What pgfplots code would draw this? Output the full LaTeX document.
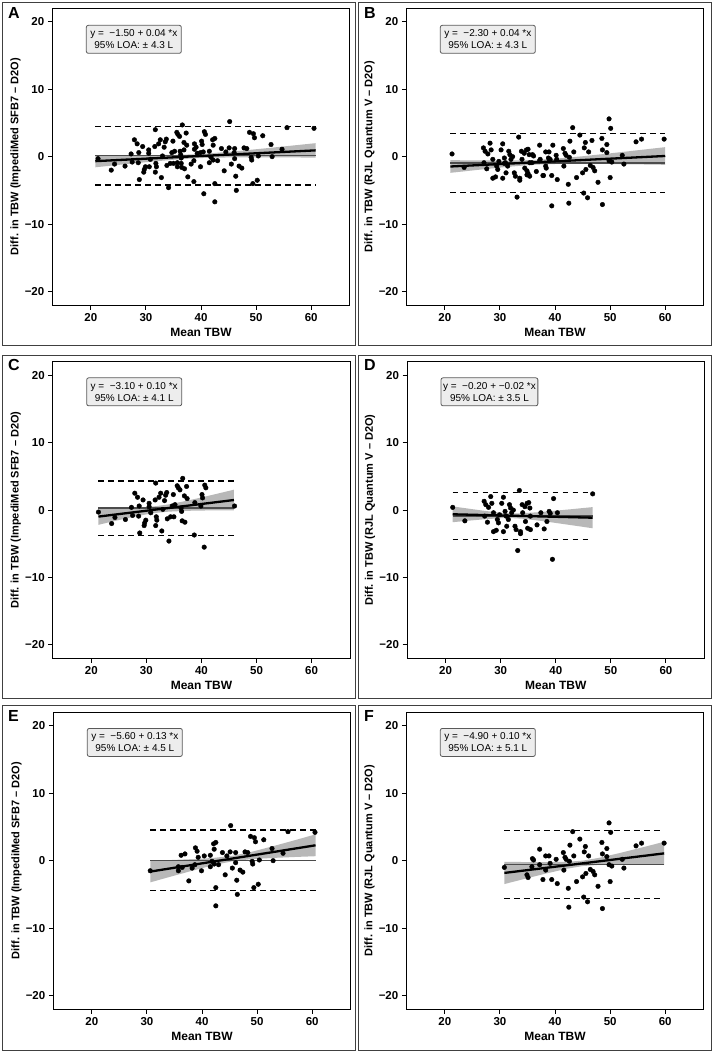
\documentclass[border=0pt]{standalone}
\usepackage{fontspec}
\setmainfont{Liberation Sans}
\usepackage{pgfplots}
\pgfplotsset{compat=1.18}
\usepackage{pgfplotstable}

% ---------- data: women (C, D) and men (E, F); A = C+E, B = D+F ----------
\pgfplotstableread{
x y
21.3 -0.3
23.7 -2.0
24.3 -1.1
26.2 -1.4
27.3 0.4
27.5 -0.8
27.9 2.5
28.4 1.9
28.7 0.6
28.6 -0.9
28.8 -3.4
29.4 1.5
29.7 -1.9
29.6 -2.3
29.9 -1.5
30.5 1.0
30.5 0.5
30.8 -0.4
31.6 1.5
31.7 4.0
31.8 -1.0
31.9 -1.5
31.7 -2.3
32.3 1.9
32.6 2.5
32.8 -3.1
33.0 0.1
33.3 1.4
33.5 2.2
33.7 2.6
33.8 -1.3
34.1 -4.6
34.4 -1.0
34.7 0.6
34.9 2.3
35.0 -1.0
35.2 0.8
35.6 3.6
35.8 3.3
36.1 3.0
36.6 4.7
36.3 0.3
36.4 -0.2
36.5 -1.6
37.0 -1.8
36.9 2.1
37.3 3.5
37.4 1.7
38.8 1.1
38.7 -3.7
39.9 0.6
40.1 2.3
40.2 1.8
40.6 3.7
40.8 3.3
40.5 -5.5
46.0 0.6
}\dataC

\pgfplotstableread{
x y
30.6 -1.5
35.7 -0.9
35.7 -1.5
36.2 0.8
36.9 1.0
36.4 -1.0
37.6 -3.0
38.2 -1.1
38.8 1.9
39.1 1.4
39.3 0.5
38.7 -0.6
39.9 -1.5
40.4 0.7
41.5 0.8
41.5 -0.9
41.8 -0.1
42.1 2.5
42.2 1.7
42.5 2.7
42.2 -0.5
42.5 -4.0
42.5 -6.7
43.0 -0.6
43.7 1.2
44.2 -2.1
44.5 0.7
45.2 5.2
45.1 1.3
45.5 -1.1
46.1 1.2
46.1 -0.3
46.3 -2.9
46.4 -5.0
46.9 -1.4
47.4 -1.7
47.8 1.3
48.3 1.2
48.8 3.6
49.1 -0.1
49.2 -0.5
49.4 -4.0
49.5 3.4
49.7 2.8
50.2 -3.5
50.4 0.1
51.2 3.1
52.7 1.8
52.9 0.0
54.7 1.1
55.6 4.3
60.5 4.2
}\dataE

\pgfplotstableread{
x y
21.3 0.4
23.5 -1.6
27.0 1.3
27.3 0.8
27.1 -0.9
27.6 -1.8
27.8 0.4
28.2 2.0
28.4 1.0
28.7 -0.4
28.7 -3.2
29.2 -3.0
29.4 -1.4
29.6 -1.9
29.8 -0.7
30.2 1.0
30.5 1.9
30.5 -3.2
30.8 -0.2
31.0 -0.9
31.1 -2.4
31.4 -1.4
31.6 0.8
31.8 0.3
32.0 -0.4
32.3 0.0
32.6 -2.4
32.8 -2.9
33.1 -6.0
33.4 2.9
33.6 -3.2
33.6 -3.5
33.9 0.8
34.0 -0.4
34.4 0.5
34.5 -1.7
34.8 1.0
34.9 -2.7
35.1 1.1
35.3 0.3
35.4 -2.9
35.4 -0.9
36.6 -2.2
37.3 -0.4
37.9 -2.8
38.4 -1.7
38.8 -0.2
39.0 -0.5
39.6 1.7
39.4 -7.3
40.3 -0.4
46.7 2.4
}\dataD

\pgfplotstableread{
x y
30.8 -1.0
34.9 -2.1
35.1 -2.5
35.9 0.3
36.1 0.1
35.8 -0.9
37.2 1.7
37.2 -0.6
37.8 -2.8
38.3 0.7
38.3 -1.4
38.9 0.7
39.1 -0.4
39.4 -2.8
40.2 0.2
40.4 -3.4
41.5 1.2
41.6 -1.4
41.8 0.5
42.0 0.2
42.4 -4.1
42.5 -6.9
42.7 2.3
42.6 -0.1
43.2 4.3
43.4 0.7
43.9 -3.1
44.5 3.2
45.0 -2.4
45.2 -5.4
45.3 1.3
45.5 2.1
45.6 -1.9
45.9 -6.1
46.1 0.7
46.4 -1.3
46.9 -1.6
47.2 -2.1
47.8 -3.8
48.5 2.7
48.6 1.0
48.6 -7.1
49.4 1.8
49.4 0.6
49.8 5.6
49.8 -0.6
50.0 -3.1
50.1 4.2
50.3 -0.8
52.2 0.2
52.5 -1.1
54.7 2.2
55.7 2.6
59.8 2.6
}\dataF

\definecolor{bandgray}{gray}{0.72}
\definecolor{meangray}{gray}{0.30}
\definecolor{boxgray}{gray}{0.93}

\tikzset{
  eqbox/.style={draw=black!65, fill=boxgray, rounded corners=2pt, line width=0.8pt,
    font=\fontsize{10}{12}\selectfont, align=center, minimum width=95pt,
    minimum height=28pt, inner sep=2pt, anchor=north west},
}

\pgfplotsset{
  bap/.style={
    scale only axis, width=297.5pt, height=296.7pt,
    xmin=13, xmax=67, ymin=-22, ymax=22,
    xtick={20,30,40,50,60}, xticklabels={20,30,40,50,60},
    ytick={-20,-10,0,10,20}, yticklabels={−20,−10,0,10,20},
    tick pos=left, tick align=outside, major tick length=4.5pt,
    minor tick num=0,
    every tick/.style={black, line width=1pt},
    axis line style={black, line width=1pt},
    ticklabel style={font=\bfseries\fontsize{11.5}{13}\selectfont},
    xlabel={Mean TBW},
    x label style={at={(axis description cs:0.5,-0.091)}, anchor=center,
      font=\bfseries\fontsize{12}{14}\selectfont},
    y label style={at={(axis description cs:-0.124,0.5)}, anchor=center,
      font=\bfseries\fontsize{11}{13}\selectfont},
  },
  band/.style={fill=bandgray, draw=none, forget plot},
  meanl/.style={meangray, line width=1.5pt, forget plot},
  loal/.style={black, line width=1.3pt, dash pattern=on 5.5pt off 4.5pt, forget plot},
  regl/.style={black, line width=2.3pt, forget plot},
  pts/.style={only marks, mark=*, mark size=2.3pt, mark options={fill=black, draw=black}, forget plot},
}

\begin{document}
\begin{tikzpicture}
\useasboundingbox (0pt,0pt) rectangle (714pt,-1054pt);

% panel frames
\begin{scope}[black!75, line width=1pt]
\draw (2.7pt,-2.7pt) rectangle (355pt,-345.5pt);
\draw (358.7pt,-2.7pt) rectangle (711pt,-345.5pt);
\draw (2.7pt,-355pt) rectangle (355pt,-698pt);
\draw (358.7pt,-355pt) rectangle (711pt,-698pt);
\draw (2.7pt,-705.7pt) rectangle (355pt,-1050.7pt);
\draw (358.7pt,-705.7pt) rectangle (711pt,-1050.7pt);
\end{scope}

\begin{scope}[font=\bfseries\fontsize{16}{18}\selectfont, inner sep=0pt]
\node[anchor=north west] at (8pt,-7pt) {A};
\node[anchor=north west] at (364pt,-7pt) {B};
\node[anchor=north west] at (8pt,-359pt) {C};
\node[anchor=north west] at (364pt,-359pt) {D};
\node[anchor=north west] at (8pt,-710pt) {E};
\node[anchor=north west] at (364pt,-710pt) {F};
\end{scope}

% ---------------- A ----------------
\begin{axis}[bap, at={(52.3pt,-8.3pt)}, anchor=north west,
  ylabel={Diff. in TBW (ImpediMed SFB7 – D2O)}]
\addplot[band] coordinates {(20.8,0.24) (26,0.22) (31,0.22) (36,0.27) (39,0.36) (42,0.51) (47,0.86) (52,1.26) (57,1.68) (60.8,2.0)
  (60.8,-0.14) (57,-0.12) (52,-0.10) (47,-0.10) (42,-0.15) (39,-0.24) (36,-0.39) (31,-0.74) (26,-1.14) (20.8,-1.58)};
\addplot[meanl] coordinates {(20.8,0.15) (60.8,0.15)};
\addplot[loal] coordinates {(20.8,4.5) (60.8,4.5)};
\addplot[loal] coordinates {(20.8,-4.2) (60.8,-4.2)};
\addplot[pts] table[x=x,y=y] {\dataC};
\addplot[pts] table[x=x,y=y] {\dataE};
\addplot[regl] coordinates {(20.8,-0.668) (60.8,0.932)};
\node[eqbox] at (rel axis cs:0.113,0.944) {y = \ −1.50 + 0.04 *x\\95\% LOA: ± 4.3 L};
\end{axis}

% ---------------- B ----------------
\begin{axis}[bap, at={(406.3pt,-8.3pt)}, anchor=north west,
  ylabel={Diff. in TBW (RJL Quantum V – D2O)}]
\addplot[band] coordinates {(21,-0.52) (26,-0.56) (31,-0.58) (35,-0.53) (37,-0.47) (40,-0.31) (45,0.06) (50,0.49) (55,0.95) (60,1.41)
  (60,-1.21) (55,-1.15) (50,-1.09) (45,-1.06) (40,-1.09) (37,-1.17) (35,-1.27) (31,-1.54) (26,-1.96) (21,-2.40)};
\addplot[meanl] coordinates {(21,-0.95) (60,-0.95)};
\addplot[loal] coordinates {(21,3.4) (60,3.4)};
\addplot[loal] coordinates {(21,-5.3) (60,-5.3)};
\addplot[pts] table[x=x,y=y] {\dataD};
\addplot[pts] table[x=x,y=y] {\dataF};
\addplot[regl] coordinates {(21,-1.46) (60,0.10)};
\node[eqbox] at (rel axis cs:0.113,0.944) {y = \ −2.30 + 0.04 *x\\95\% LOA: ± 4.3 L};
\end{axis}

% ---------------- C ----------------
\begin{axis}[bap, at={(52.7pt,-361.7pt)}, anchor=north west,
  ylabel={Diff. in TBW (ImpediMed SFB7 – D2O)}]
\addplot[band] coordinates {(21.3,0.25) (24,0.27) (27,0.32) (30,0.44) (32,0.60) (34,0.84) (37,1.32) (40,1.87) (43,2.45) (45.9,3.02)
  (45.9,-0.04) (43,-0.05) (40,-0.07) (37,-0.12) (34,-0.24) (32,-0.40) (30,-0.64) (27,-1.12) (24,-1.67) (21.3,-2.19)};
\addplot[meanl] coordinates {(21.3,0.27) (45.9,0.27)};
\addplot[loal] coordinates {(21.3,4.3) (45.9,4.3)};
\addplot[loal] coordinates {(21.3,-3.8) (45.9,-3.8)};
\addplot[pts] table[x=x,y=y] {\dataC};
\addplot[regl] coordinates {(21.3,-0.97) (45.9,1.49)};
\node[eqbox] at (rel axis cs:0.113,0.947) {y = \ −3.10 + 0.10 *x\\95\% LOA: ± 4.1 L};
\end{axis}

% ---------------- D ----------------
\begin{axis}[bap, at={(407pt,-361.7pt)}, anchor=north west,
  ylabel={Diff. in TBW (RJL Quantum V – D2O)}]
\addplot[band] coordinates {(21.3,0.54) (24,0.23) (27,-0.11) (30,-0.39) (32,-0.49) (34,-0.47) (37,-0.31) (40,-0.09) (43,0.14) (46.7,0.44)
  (46.7,-2.70) (43,-2.26) (40,-1.91) (37,-1.57) (34,-1.29) (32,-1.19) (30,-1.21) (27,-1.37) (24,-1.59) (21.3,-1.80)};
\addplot[meanl] coordinates {(21.3,-0.9) (46.7,-0.9)};
\addplot[loal] coordinates {(21.3,2.6) (46.7,2.6)};
\addplot[loal] coordinates {(21.3,-4.4) (46.7,-4.4)};
\addplot[pts] table[x=x,y=y] {\dataD};
\addplot[regl] coordinates {(21.3,-0.626) (46.7,-1.134)};
\node[eqbox] at (rel axis cs:0.113,0.947) {y = \ −0.20 + −0.02 *x\\95\% LOA: ± 3.5 L};
\end{axis}

% ---------------- E ----------------
\begin{axis}[bap, at={(53.3pt,-712.3pt)}, anchor=north west,
  ylabel={Diff. in TBW (ImpediMed SFB7 – D2O)}]
\addplot[band] coordinates {(30.6,-0.02) (34,0.08) (38,0.22) (42,0.40) (45.5,0.72) (49,1.31) (53,2.17) (57,3.07) (60.6,3.90)
  (60.6,0.66) (57,0.55) (53,0.41) (49,0.23) (45.5,-0.09) (42,-0.68) (38,-1.54) (34,-2.44) (30.6,-3.22)};
\addplot[meanl] coordinates {(30.6,0.05) (60.6,0.05)};
\addplot[loal] coordinates {(30.6,4.55) (60.6,4.55)};
\addplot[loal] coordinates {(30.6,-4.45) (60.6,-4.45)};
\addplot[pts] table[x=x,y=y] {\dataE};
\addplot[regl] coordinates {(30.6,-1.622) (60.6,2.278)};
\node[eqbox] at (rel axis cs:0.113,0.947) {y = \ −5.60 + 0.13 *x\\95\% LOA: ± 4.5 L};
\end{axis}

% ---------------- F ----------------
\begin{axis}[bap, at={(406.3pt,-712.3pt)}, anchor=north west,
  ylabel={Diff. in TBW (RJL Quantum V – D2O)}]
\addplot[band] coordinates {(30.8,-0.17) (34,-0.2) (38,-0.22) (42,-0.18) (45,0.0) (48,0.42) (52,1.18) (56,2.0) (59.8,2.8)
  (59.8,-0.64) (56,-0.6) (52,-0.58) (48,-0.62) (45,-0.8) (42,-1.22) (38,-1.98) (34,-2.8) (30.8,-3.47)};
\addplot[meanl] coordinates {(30.8,-0.55) (59.8,-0.55)};
\addplot[loal] coordinates {(30.8,4.5) (59.8,4.5)};
\addplot[loal] coordinates {(30.8,-5.65) (59.8,-5.65)};
\addplot[pts] table[x=x,y=y] {\dataF};
\addplot[regl] coordinates {(30.8,-1.82) (59.8,1.08)};
\node[eqbox] at (rel axis cs:0.113,0.947) {y = \ −4.90 + 0.10 *x\\95\% LOA: ± 5.1 L};
\end{axis}
\end{tikzpicture}
\end{document}
